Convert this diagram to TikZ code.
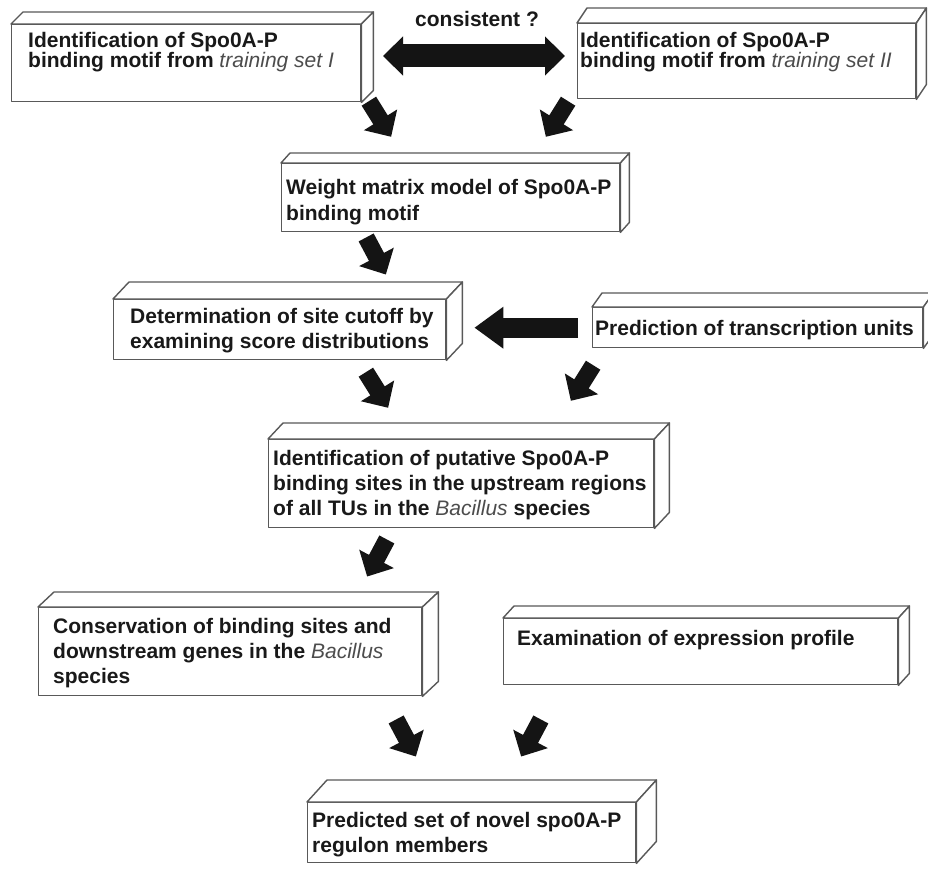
\documentclass[tikz,border=0pt]{standalone}
\usepackage{fontspec}
\setmainfont{Liberation Sans}
\usetikzlibrary{arrows.meta,calc}
\tikzset{
  x=1pt, y=-1pt,
  face/.style={draw=black!65, line width=1.4pt, fill=white, line join=round},
  frontbox/.style={face, anchor=north west, inner sep=0pt, minimum width=#1},
  txt/.style={anchor=north west, inner sep=0pt, align=left, text=black!90,
    font=\bfseries\fontsize{21}{#1}\selectfont},
  txt/.default=25,
  blk/.style={line width=17pt, -{Triangle[width=38pt,length=20pt]}, black!92},
}
\newcommand{\itx}[1]{{\mdseries\itshape\color{black!70}#1}}
\newcommand{\cubeface}[3]{%
  \draw[face] (#1.north west) -- ++(#2,-#3) -- ($(#1.north east)+(#2,-#3)$) -- (#1.north east) -- cycle;
  \draw[face] (#1.north east) -- ++(#2,-#3) -- ($(#1.south east)+(#2,-#3)$) -- (#1.south east) -- cycle;
}
\begin{document}
\begin{tikzpicture}
\useasboundingbox (0,0) rectangle (928,869);
\fill[white] (0,0) rectangle (928,869);

% boxes (front faces)
\node[frontbox=349pt, minimum height=77pt] (b1) at (11,24) {};
\cubeface{b1}{12}{12}
\node[frontbox=338pt, minimum height=75pt] (b2) at (577,23) {};
\cubeface{b2}{10}{15}
\node[frontbox=338pt, minimum height=68pt] (b3) at (281,163) {};
\cubeface{b3}{9}{10}
\node[frontbox=332pt, minimum height=60pt] (b4) at (113,299) {};
\cubeface{b4}{16}{17}
\node[frontbox=330pt, minimum height=40pt] (b5) at (592,307) {};
\cubeface{b5}{10}{14}
\node[frontbox=385pt, minimum height=88pt] (b6) at (268,439) {};
\cubeface{b6}{15}{16}
\node[frontbox=383pt, minimum height=88pt] (b7) at (38,607) {};
\cubeface{b7}{16}{15}
\node[frontbox=394pt, minimum height=66pt] (b8) at (503,618) {};
\cubeface{b8}{11}{12}
\node[frontbox=328pt, minimum height=60pt] (b9) at (307,802) {};
\cubeface{b9}{20}{22}

% texts
\node[txt=18] (t1) at (28,31) {\rule{0pt}{16pt}Identification of Spo0A-P\\binding motif from \itx{training set I}};
\node[txt=20] (t2) at (580,31) {\rule{0pt}{16pt}Identification of Spo0A-P\\binding motif from \itx{training set II}};
\node[txt=26] (t3) at (286,178) {\rule{0pt}{16pt}Weight matrix model of Spo0A-P\\binding motif};
\node[txt] (t4) at (130,307) {\rule{0pt}{16pt}Determination of site cutoff by\\examining score distributions};
\node[txt] (t5) at (595,319) {\rule{0pt}{16pt}Prediction of transcription units};
\node[txt] (t6) at (273,449) {\rule{0pt}{16pt}Identification of putative Spo0A-P\\binding sites in the upstream regions\\of all TUs in the \itx{Bacillus} species};
\node[txt] (t7) at (53,617) {\rule{0pt}{16pt}Conservation of binding sites and\\downstream genes in the \itx{Bacillus}\\species};
\node[txt] (t8) at (517,629) {\rule{0pt}{16pt}Examination of expression profile};
\node[txt] (t9) at (312,811) {\rule{0pt}{16pt}Predicted set of novel spo0A-P\\regulon members};
\node[txt] (q) at (415,10) {\rule{0pt}{16pt}consistent ?};

% double arrow between b1 and b2
\coordinate (dl) at (383,56);
\coordinate (dr) at (565,56);
\draw[line width=23pt, black!92, {Triangle[width=38pt,length=20pt]}-{Triangle[width=38pt,length=20pt]}] (dl) -- (dr);

% horizontal arrow b5 -> b4
\draw[line width=20pt, black!92, -{Triangle[width=40pt,length=29pt]}, shorten <=14pt, shorten >=28pt]
  (b5.west) -- (b4.east |- b5.west);

% diagonal block arrows
\foreach \n/\cx/\cy/\ang in {a1/380/119/58, a2/557/119/122, a3/376/256/62, a4/377/390/58,
    a5/582/383/122, a6/377/558/118, a7/406/738/62, a8/531/738/118}{
  \coordinate (\n c) at (\cx,\cy);
  \coordinate (\n s) at ($(\n c)+(\ang+180:21)$);
  \coordinate (\n e) at ($(\n c)+(\ang:21)$);
  \draw[blk] (\n s) -- (\n e);
}
\end{tikzpicture}
\end{document}
